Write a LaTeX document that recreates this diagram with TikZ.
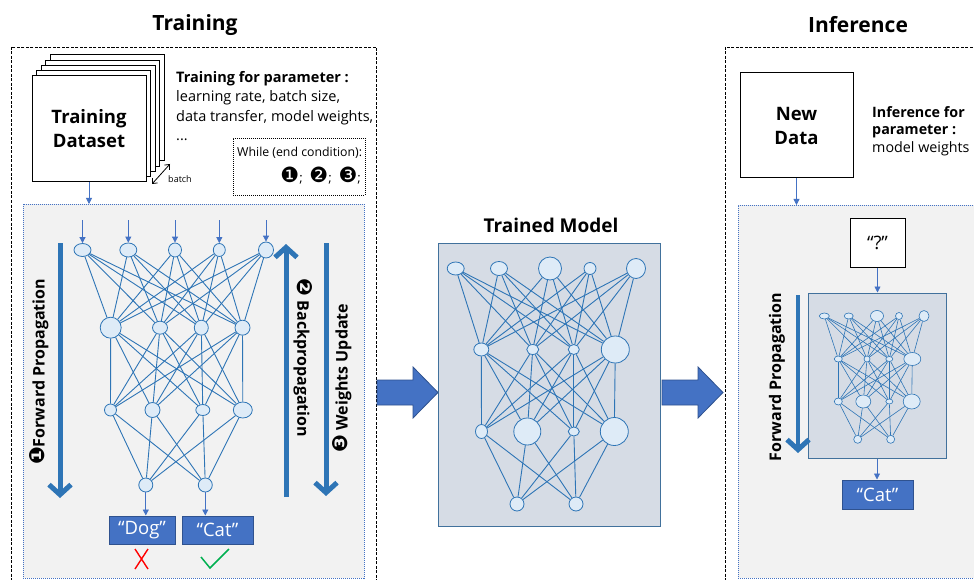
\documentclass[tikz,border=0pt]{standalone}
\usepackage{fontspec}
\setmainfont{Open Sans}
\newfontfamily\dejavu{DejaVu Sans}
\newcommand{\cnum}[1]{{\dejavu\fontsize{21}{21}\selectfont #1}}
\usetikzlibrary{arrows.meta,shapes.geometric}
\definecolor{netblue}{HTML}{2E75B6}
\definecolor{nodefill}{HTML}{DEEBF7}
\definecolor{accblue}{HTML}{4472C4}
\definecolor{darkblue}{HTML}{2F528F}
\definecolor{panelgray}{HTML}{F2F2F2}
\definecolor{modelfill}{HTML}{D6DCE5}
\definecolor{modelborder}{HTML}{41719C}
\definecolor{okgreen}{HTML}{00B050}
\tikzset{
  neuron/.style 2 args={ellipse, draw=netblue, fill=nodefill, line width=0.8pt, inner sep=0pt, minimum width=#1, minimum height=#2},
  sneuron/.style 2 args={ellipse, draw=netblue, fill=nodefill, line width=0.6pt, inner sep=0pt, minimum width=#1, minimum height=#2},
  netline/.style={draw=netblue, line width=0.9pt},
  snetline/.style={draw=netblue, line width=0.6pt},
  thinarrow/.style={draw=accblue, line width=0.8pt, -{Triangle[length=6pt,width=6pt]}},
  bigarrow/.style={draw=netblue, line width=5pt, -{Straight Barb[length=10pt,width=22pt,line width=5pt]}},
  outerbox/.style={draw=black, line width=0.8pt, dash pattern=on 3pt off 1.5pt},
  panel/.style={draw=accblue, fill=panelgray, line width=0.8pt, dash pattern=on 1pt off 1pt},
  labelbox/.style={draw=darkblue, fill=accblue, line width=1pt, text=white, font=\fontsize{18.5}{20}\selectfont, inner sep=0pt},
  whitebox/.style={draw=black, fill=white, line width=1pt, inner sep=0pt},
  blockarrow/.style={draw=darkblue, fill=accblue, line width=0.8pt},
  modelbox/.style={draw=modelborder, fill=modelfill, line width=1pt, inner sep=0pt},
  titletext/.style={font=\bfseries\fontsize{21}{24}\selectfont, inner sep=0pt},
  rotlabel/.style={font=\bfseries\fontsize{16}{18}\selectfont, inner sep=0pt},
}
\begin{document}
\begin{tikzpicture}[x=1pt,y=-1pt]
\useasboundingbox (0,0) rectangle (974,580);
\clip (0,0) rectangle (974,580);
\fill[white] (0,0) rectangle (974,580);

% ---------------- Training ----------------
\node[titletext] (ttitle) at (195,25) {Training};
\draw[outerbox] (11,47) rectangle (376,600);

% stacked pages
\foreach \i in {4,3,2,1}
  \draw[whitebox] ({32+4.5*\i},{76-5.25*\i}) rectangle +(114,106);
\node[whitebox, minimum width=114pt, minimum height=106pt, align=center,
      font=\bfseries\fontsize{18.5}{24}\selectfont] (dataset) at (89,129) {Training\\Dataset};
\coordinate (bA) at (152,184);
\coordinate (bB) at (170,164);
\draw[line width=0.8pt, {Straight Barb[length=4pt,width=7pt]}-{Straight Barb[length=4pt,width=7pt]}] (bA) -- (bB);
\node[font=\fontsize{9}{10}\selectfont, inner sep=0pt] (batch) at (180,179) {batch};

\node[anchor=north west, align=left, inner sep=0pt, font=\fontsize{14.5}{19.5}\selectfont] (params) at (176,71)
  {\textbf{Training for parameter :}\\learning rate, batch size,\\data transfer, model weights,\\...};

\node[draw=black, line width=0.8pt, dash pattern=on 1pt off 1pt, minimum width=132pt, minimum height=57pt, inner sep=0pt] (whilebox) at (299,166.5) {};
\node[anchor=base west, inner sep=0pt, font=\fontsize{12.3}{14}\selectfont] (whiletxt) at (237,157) {While (end condition):};
\node[anchor=base east, inner sep=0pt, font=\fontsize{13}{15}\selectfont] (steps) at (361,183) {\cnum{❶}; \ \cnum{❷}; \ \cnum{❸};};

% inner panel
\node[panel, anchor=north west, minimum width=341pt, minimum height=374pt, inner sep=0pt] (tpanel) at (23,204) {};
\draw[thinarrow] (dataset.south) -- (dataset.south |- tpanel.north);

% training network
\foreach \n/\x/\w/\h in {1/82.5/17/13,2/128.3/17/14,3/175/13/14,4/219.3/12/13,5/266/15/16}
  \node[neuron={\w pt}{\h pt}] (tA\n) at (\x,250) {};
\foreach \n/\x/\w/\h in {1/110.7/21/21,2/160/15/13,3/201.3/14/15,4/242.5/15/15}
  \node[neuron={\w pt}{\h pt}] (tB\n) at (\x,327.7) {};
\foreach \n/\x/\w/\h in {1/110.5/12/12,2/152.5/15/15,3/202.8/14/11,4/242.8/19/16}
  \node[neuron={\w pt}{\h pt}] (tC\n) at (\x,410) {};
\foreach \n/\x in {1/145.8,2/205.3}
  \node[neuron={14pt}{14pt}] (tD\n) at (\x,485) {};
\foreach \a in {1,...,5} \foreach \b in {1,...,4} \draw[netline] (tA\a) -- (tB\b);
\foreach \a in {1,...,4} \foreach \b in {1,...,4} \draw[netline] (tB\a) -- (tC\b);
\foreach \a in {1,...,4} \foreach \b in {1,2} \draw[netline] (tC\a) -- (tD\b);
\foreach \n in {1,...,5} {
  \path (tA\n.center) ++(0,-30) coordinate (tin\n);
  \draw[thinarrow] (tin\n) -- (tA\n.north);
}
\node[labelbox, minimum width=66pt, minimum height=28pt] (dog) at (142,530) {“Dog”};
\node[labelbox, minimum width=71pt, minimum height=28pt] (cat) at (217.5,530) {“Cat”};
\draw[thinarrow] (tD1) -- (tD1 |- dog.north);
\draw[thinarrow] (tD2) -- (tD2 |- cat.north);
\draw[red, line width=1.4pt] (135,549) -- (148,569) (148,549) -- (135,569);
\draw[okgreen, line width=1.5pt] (201,557) -- (210,568) -- (229,549);

% big arrows
\coordinate (fpS) at (60,243); \coordinate (fpE) at (60,498);
\coordinate (bpS) at (286,497); \coordinate (bpE) at (286,244);
\coordinate (wuS) at (326,243); \coordinate (wuE) at (326,496);
\draw[bigarrow] (fpS) -- (fpE);
\draw[bigarrow] (bpS) -- (bpE);
\draw[bigarrow] (wuS) -- (wuE);
\node[rotlabel, rotate=90] (fplabel) at (39,372) {\cnum{❶}Forward Propagation};
\node[rotlabel, rotate=-90] (bplabel) at (303,358) {\cnum{❷} Backpropagation};
\node[rotlabel, rotate=90] (wulabel) at (342,378) {\cnum{❸} Weights Update};

% ---------------- Trained model ----------------
\draw[blockarrow] (377,380) -- (413,380) -- (413,367) -- (438,392.5) -- (413,418) -- (413,405) -- (377,405) -- cycle;
\draw[blockarrow] (662,380) -- (698,380) -- (698,367) -- (723,392.5) -- (698,418) -- (698,405) -- (662,405) -- cycle;
\node[font=\bfseries\fontsize{19}{22}\selectfont, inner sep=0pt] (mtitle) at (551,225) {Trained Model};
\node[modelbox, minimum width=222pt, minimum height=283pt] (tmbox) at (549,384.5) {};
\foreach \n/\x/\w/\h in {1/455.7/17/13,2/499/17/14,3/550/23/23,4/590/12/12,5/636/19/20}
  \node[neuron={\w pt}{\h pt}] (mA\n) at (\x,268.5) {};
\foreach \n/\x/\w/\h in {1/481.3/15/13,2/532.7/12/10,3/573.8/11/10,4/615.3/28/27}
  \node[neuron={\w pt}{\h pt}] (mB\n) at (\x,349.5) {};
\foreach \n/\x/\w/\h in {1/481.5/12/14,2/527.3/27/27,3/573.8/11/9,4/614.3/28/28}
  \node[neuron={\w pt}{\h pt}] (mC\n) at (\x,431.5) {};
\foreach \n/\x in {1/517,2/576}
  \node[neuron={14pt}{14pt}] (mD\n) at (\x,504) {};
\foreach \a in {1,...,5} \foreach \b in {1,...,4} \draw[netline] (mA\a) -- (mB\b);
\foreach \a in {1,...,4} \foreach \b in {1,...,4} \draw[netline] (mB\a) -- (mC\b);
\foreach \a in {1,...,4} \foreach \b in {1,2} \draw[netline] (mC\a) -- (mD\b);

% ---------------- Inference ----------------
\node[titletext] (ititle) at (858,25) {Inference};
\draw[outerbox] (725,47) rectangle (1000,600);
\node[whitebox, minimum width=113pt, minimum height=105pt, align=center,
      font=\bfseries\fontsize{18.5}{24}\selectfont] (newdata) at (796.5,125.5) {New\\Data};
\node[anchor=north west, align=left, inner sep=0pt, font=\fontsize{14.3}{17.5}\selectfont] (iparams) at (872,106)
  {\textbf{Inference for}\\\textbf{parameter :}\\model weights};
\node[panel, anchor=north west, minimum width=260pt, minimum height=373pt, inner sep=0pt] (ipanel) at (738,205) {};
\draw[thinarrow] (newdata.south) -- (newdata.south |- ipanel.north);
\node[whitebox, minimum width=55pt, minimum height=49pt, font=\fontsize{18.5}{20}\selectfont] (qbox) at (877.5,242.5) {“?”};
\node[modelbox, minimum width=138pt, minimum height=165pt] (imbox) at (877,375.5) {};
\draw[thinarrow] (qbox) -- (qbox |- imbox.north);
\foreach \n/\x/\w/\h in {1/824.3/10/6,2/848.7/9/6,3/877/13/11,4/899/7/7,5/924/10/11}
  \node[sneuron={\w pt}{\h pt}] (iA\n) at (\x,316) {};
\foreach \n/\x/\w/\h in {1/838.3/8/6,2/867/6/6,3/889.3/7/5,4/912.3/17/13}
  \node[sneuron={\w pt}{\h pt}] (iB\n) at (\x,359) {};
\foreach \n/\x/\w/\h in {1/838.3/8/7,2/863.3/15/13,3/889.3/7/5,4/911.7/17/15}
  \node[sneuron={\w pt}{\h pt}] (iC\n) at (\x,401.5) {};
\foreach \n/\x in {1/857.7,2/890.7}
  \node[sneuron={8pt}{8pt}] (iD\n) at (\x,439.3) {};
\foreach \a in {1,...,5} \foreach \b in {1,...,4} \draw[snetline] (iA\a) -- (iB\b);
\foreach \a in {1,...,4} \foreach \b in {1,...,4} \draw[snetline] (iB\a) -- (iC\b);
\foreach \a in {1,...,4} \foreach \b in {1,2} \draw[snetline] (iC\a) -- (iD\b);
\node[labelbox, minimum width=71pt, minimum height=29pt] (icat) at (877.5,494.5) {“Cat”};
\draw[thinarrow] (imbox.south) -- (imbox.south |- icat.north);
\coordinate (ifS) at (798,295); \coordinate (ifE) at (798,453);
\draw[bigarrow, line width=4.5pt] (ifS) -- (ifE);
\node[rotlabel, rotate=90] (iflabel) at (777,377) {Forward Propagation};
\end{tikzpicture}
\end{document}
